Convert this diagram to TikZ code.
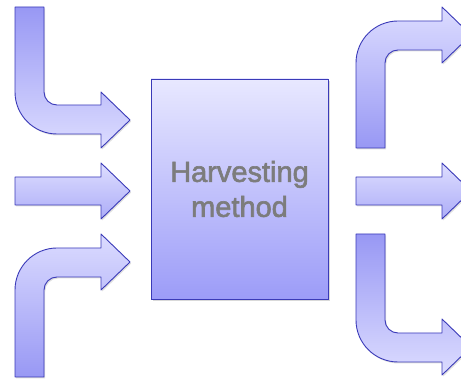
\documentclass[tikz,border=0pt]{standalone}
\usepackage{fontspec}
\setmainfont{Liberation Sans}
\newfontfamily\labelfont[FakeBold=2]{Liberation Sans}
\usetikzlibrary{shadows}
\definecolor{arrlight}{HTML}{DCDCFF}
\definecolor{arrdark}{HTML}{9898F4}
\definecolor{boxtop}{HTML}{E8E8FF}
\definecolor{boxbot}{HTML}{9C9CF8}
\definecolor{edge}{HTML}{3A3AB8}
\definecolor{txtgray}{HTML}{7C7C7C}
\tikzset{
  arrowshape/.style={draw=edge, line width=0.9pt, line join=round,
    drop shadow={opacity=0.25, shadow xshift=1.2pt, shadow yshift=-1.5pt}},
  darktop/.style={arrowshape, top color=arrdark, bottom color=arrlight},
  lighttop/.style={arrowshape, top color=arrlight, bottom color=arrdark},
  midarrow/.style={arrowshape, top color=arrlight!95!white, bottom color=arrdark!70!arrlight},
  mainbox/.style={draw=edge, line width=0.9pt, top color=boxtop, bottom color=boxbot,
    minimum width=177pt, minimum height=220pt, inner sep=0pt,
    align=center, text=txtgray, font=\labelfont\fontsize{29}{35}\selectfont,
    drop shadow={opacity=0.3, shadow xshift=1.5pt, shadow yshift=-2pt}}
}
\begin{document}
\begin{tikzpicture}[x=1pt, y=-1pt]
\useasboundingbox (0,0) rectangle (461,379);
\clip (0,0) rectangle (461,379);
% top-left bent arrow
\path[darktop] (15,7) -- (44,7) -- (44,92) .. controls (44,99.2) and (49.8,105) .. (57,105)
  -- (101,105) -- (101,92) -- (130,120) -- (101,148) -- (101,134) -- (57,134)
  .. controls (33.8,134) and (15,115.2) .. (15,92) -- cycle;
% middle-left arrow
\path[midarrow] (15,177) -- (101,177) -- (101,163) -- (130,191) -- (101,219) -- (101,205) -- (15,205) -- cycle;
% bottom-left bent arrow
\path[lighttop] (15,377) -- (15,290) .. controls (15,266.8) and (33.8,248) .. (57,248)
  -- (101,248) -- (101,234) -- (130,262) -- (101,290) -- (101,277) -- (57,277)
  .. controls (49.8,277) and (44,282.8) .. (44,290) -- (44,377) -- cycle;
% top-right bent arrow
\path[lighttop] (356,148) -- (356,63) .. controls (356,39.8) and (374.8,21) .. (398,21)
  -- (442,21) -- (442,7) -- (471,35) -- (442,63) -- (442,50) -- (398,50)
  .. controls (390.8,50) and (385,55.8) .. (385,63) -- (385,148) -- cycle;
% middle-right arrow
\path[midarrow] (356,177) -- (442,177) -- (442,163) -- (471,191) -- (442,219) -- (442,205) -- (356,205) -- cycle;
% bottom-right bent arrow
\path[darktop] (356,234) -- (385,234) -- (385,320) .. controls (385,327.2) and (390.8,333) .. (398,333)
  -- (442,333) -- (442,319) -- (471,347) -- (442,375) -- (442,362) -- (398,362)
  .. controls (374.8,362) and (356,343.2) .. (356,320) -- cycle;
% central box
\node[mainbox] (method) at (239.5,189) {Harvesting\\method};
\end{tikzpicture}
\end{document}
